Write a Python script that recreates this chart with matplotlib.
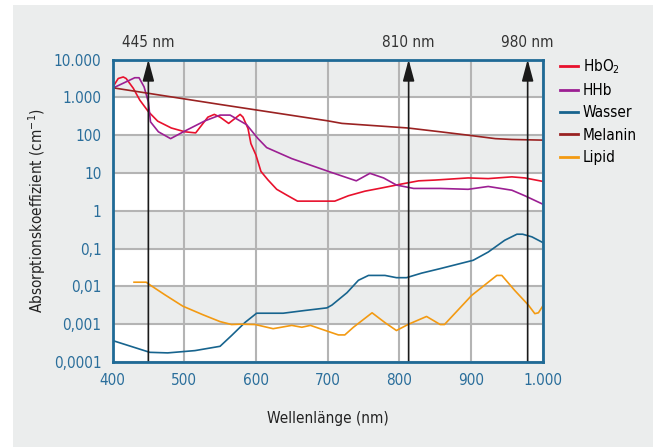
import matplotlib
matplotlib.use('Agg')
from matplotlib import pyplot as plt
from matplotlib.patches import Rectangle
from matplotlib.lines import Line2D
import matplotlib.transforms as mtransforms

plt.rcParams['font.family'] = ['Liberation Sans Narrow', 'DejaVu Sans']
plt.rcParams['font.stretch'] = 'condensed'
plt.rcParams['mathtext.fontset'] = 'custom'
plt.rcParams['mathtext.rm'] = 'DejaVu Sans:stretch=condensed'

#  data (wavelength in nm, absorption in 1/cm)
wl_hbo2 = [400, 408, 415, 419, 429, 438, 450, 463, 482, 501, 516, 533, 542, 550, 562, 578, 582,
           589, 593, 600, 607, 617, 629, 643, 658, 700, 710, 729, 752, 775, 803, 827, 850, 896,
           924, 957, 975, 1000]
hbo2 = [1820, 3160, 3470, 3160, 1740, 850, 420, 235, 155, 123, 115, 300, 355, 300, 205, 355, 300,
        150, 60, 30, 11, 6.5, 3.7, 2.6, 1.8, 1.8, 1.8, 2.5, 3.3, 4.0, 5.1, 6.2, 6.5, 7.4,
        7.1, 7.9, 7.4, 6.0]

wl_hhb = [400, 431, 437, 444, 450, 453, 464, 481, 501, 529, 550, 564, 587, 603, 615, 650, 703,
          740, 759, 778, 796, 820, 857, 896, 924, 957, 975, 1000]
hhb = [1740, 3310, 3310, 1900, 760, 225, 123, 81, 129, 240, 340, 340, 190, 81, 47, 24, 10.7,
       6.2, 9.8, 7.4, 4.8, 3.9, 3.9, 3.7, 4.4, 3.5, 2.5, 1.5]

wl_wasser = [400, 452, 477, 515, 550, 566, 585, 601, 638, 668, 699, 706, 727, 743, 757, 780, 796,
             810, 831, 857, 903, 924, 947, 964, 972, 985, 1000]
wasser = [0.00037, 0.00018, 0.000174, 0.0002, 0.00026, 0.0005, 0.00112, 0.00195, 0.00195,
          0.0023, 0.0027, 0.0032, 0.0068, 0.0145, 0.0195, 0.0195, 0.017, 0.017, 0.0224, 0.0295,
          0.049, 0.081, 0.166, 0.24, 0.24, 0.204, 0.145]

wl_melanin = [400, 550, 700, 720, 812, 857, 896, 934, 957, 1000]
melanin = [1800, 650, 240, 205, 155, 123, 100, 81, 77, 74]

wl_lipid = [430, 447, 452, 473, 498, 526, 550, 566, 578, 599, 624, 650, 664, 676, 700, 715, 724,
            736, 762, 780, 796, 813, 838, 857, 863, 901, 936, 943, 961, 980, 989, 994, 1000]
lipid = [0.0129, 0.0129, 0.011, 0.006, 0.003, 0.00178, 0.00117, 0.00098, 0.001, 0.00098,
         0.00076, 0.00093, 0.00083, 0.00093, 0.00065, 0.00052, 0.00052, 0.00083, 0.002, 0.0011,
         0.00068, 0.001, 0.0016, 0.00098, 0.00098, 0.0058, 0.0195, 0.0195, 0.0078, 0.0032,
         0.0019, 0.002, 0.003]

arrow_pos = [450, 813, 979]
arrow_labels = ['445 nm', '810 nm', '980 nm']

x_ticks = [400, 500, 600, 700, 800, 900, 1000]
x_ticklabels = ['400', '500', '600', '700', '800', '900', '1.000']
y_ticks = [1e-4, 1e-3, 1e-2, 1e-1, 1, 10, 100, 1000, 10000]
y_ticklabels = ['0,0001', '0,001', '0,01', '0,1', '1', '10', '100', '1.000', '10.000']

bg = '#ebeded'
blue = '#1f6a96'
fs = 11

fig = plt.figure(figsize=(6.53, 4.48), dpi=100)
fig.patches.append(Rectangle((13 / 653, 1 / 448), 640 / 653, 442 / 448,
                             transform=fig.transFigure, facecolor=bg, edgecolor='none', zorder=-5))

ax = fig.add_axes([0.1723, 0.192, 0.6588, 0.675])
ax.set_zorder(2)
ax.set_facecolor('white')
ax.set_yscale('log')
ax.set_xlim(400, 1000)
ax.set_ylim(1e-4, 1e4)

#  alternating bands, gray on top
for i in range(8):
    if i % 2 == 0:
        ax.axhspan(10 ** (4 - i - 1), 10 ** (4 - i), color=bg, zorder=0, lw=0)

ax.set_xticks(x_ticks)
ax.set_xticklabels(x_ticklabels)
ax.set_yticks(y_ticks)
ax.set_yticklabels(y_ticklabels)
ax.minorticks_off()
ax.tick_params(length=0, labelsize=fs, labelcolor='#2a6e9b', pad=8)
ax.grid(True, color='#b4b4b4', lw=1.5, zorder=1)
ax.set_axisbelow(True)
for s in ax.spines.values():
    s.set_color(blue)
    s.set_linewidth(2.0)
    s.set_zorder(6)

lw = 1.2
ax.plot(wl_hbo2, hbo2, color='#e8112d', lw=lw, zorder=3)
ax.plot(wl_hhb, hhb, color='#9c1f93', lw=lw, zorder=3)
ax.plot(wl_wasser, wasser, color='#17648e', lw=lw, zorder=3)
ax.plot(wl_melanin, melanin, color='#9a2222', lw=lw, zorder=3)
ax.plot(wl_lipid, lipid, color='#f39a12', lw=lw, zorder=3)

trans = mtransforms.blended_transform_factory(ax.transData, ax.transAxes)
for xp, lab in zip(arrow_pos, arrow_labels):
    ax.annotate('', xy=(xp, 1e4), xytext=(xp, 1e-4),
                arrowprops=dict(arrowstyle='-|>,head_length=1.3,head_width=0.35',
                                color='#1a1a1a', lw=1.2, shrinkA=0, shrinkB=0,
                                mutation_scale=10), zorder=5)
    ax.text(xp, 1.058, lab, transform=trans, ha='center', va='center',
            fontsize=fs, color='#333333')

ax.set_xlabel('Wellenlänge (nm)', fontsize=fs, color='#222222')
ax.xaxis.set_label_coords(0.5, -0.162)
ax.set_ylabel('Absorptionskoeffizient (cm$^{-1}$)', fontsize=fs, color='#222222')
ax.yaxis.set_label_coords(-0.15, 0.5)

handles = [Line2D([], [], color=c, lw=2) for c in
           ['#e8112d', '#9c1f93', '#17648e', '#9a2222', '#f39a12']]
labels = ['HbO$_2$', 'HHb', 'Wasser', 'Melanin', 'Lipid']
fig.legend(handles, labels, loc='upper left', bbox_to_anchor=(560 / 653, 1 - 57 / 448),
           frameon=False, fontsize=fs, handlelength=1.2, handletextpad=0.3,
           labelspacing=0.48, borderpad=0, borderaxespad=0)

fig.savefig('out.png', dpi=100)
